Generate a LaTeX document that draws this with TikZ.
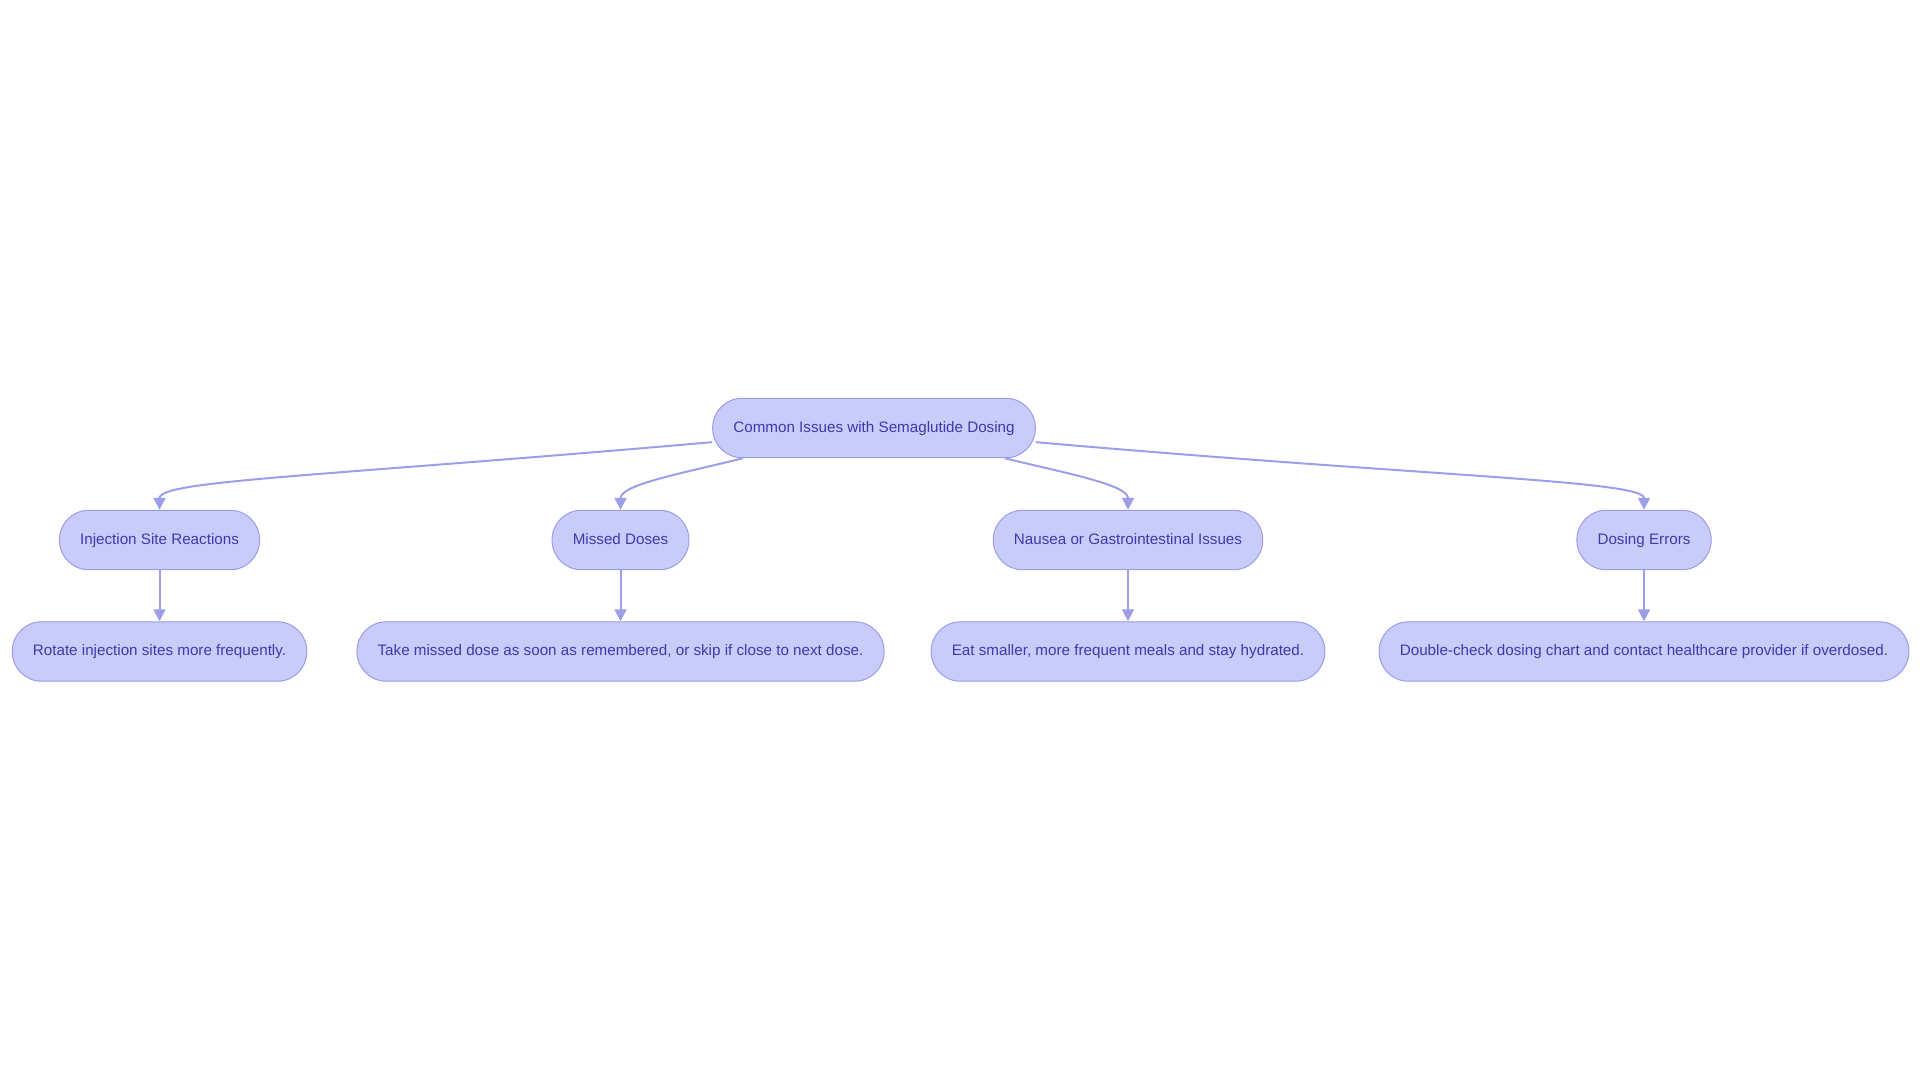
\documentclass[tikz,border=0pt]{standalone}
\usepackage{fontspec}
\setmainfont{Liberation Sans}
\usetikzlibrary{arrows.meta}
\usetikzlibrary{positioning}
\definecolor{issuefill}{HTML}{C9CBF9}
\definecolor{issueline}{HTML}{9A9DEA}
\definecolor{issuetext}{HTML}{3B3BAE}
\definecolor{linkline}{HTML}{9C9FE8}

\begin{document}
\begin{tikzpicture}[
  x=0.75pt, y=-0.75pt,
  issue/.style={draw=issueline, fill=issuefill, text=issuetext, rectangle,
    rounded corners=22pt, minimum height=44.6pt, inner xsep=15.5pt,
    text height=8.3pt, text depth=2.3pt,
    line width=0.75pt, font=\fontsize{11.4}{13.7}\selectfont},
  link/.style={draw=linkline, line width=1.5pt, -{Triangle[length=9pt,width=9pt]}},
]
\useasboundingbox (0,0) rectangle (1920,1083);

\node (top) [issue] at (874,428) {Common Issues with Semaglutide Dosing};

\node (cat1) [issue] at (159.5,540) {Injection Site Reactions};
\node (cat2) [issue] at (620.5,540) {Missed Doses};
\node (cat3) [issue] at (1128,540) {Nausea or Gastrointestinal Issues};
\node (cat4) [issue] at (1644,540) {Dosing Errors};

\node (tip1) [issue] at (159.5,651.5) {Rotate injection sites more frequently.};
\node (tip2) [issue] at (620.5,651.5) {Take missed dose as soon as remembered, or skip if close to next dose.};
\node (tip3) [issue] at (1128,651.5) {Eat smaller, more frequent meals and stay hydrated.};
\node (tip4) [issue] at (1644,651.5) {Double-check dosing chart and contact healthcare provider if overdosed.};

\draw[link] (top.185) to[out=185, in=90, out distance=300pt, in distance=22pt] (cat1.north);
\draw[link] (top.193) to[out=194, in=90, out distance=45pt, in distance=19pt] (cat2.north);
\draw[link] (top.347) to[out=346, in=90, out distance=45pt, in distance=19pt] (cat3.north);
\draw[link] (top.355) to[out=355, in=90, out distance=300pt, in distance=22pt] (cat4.north);

\foreach \i in {1,...,4} {
  \draw[link] (cat\i.south) -- (tip\i.north);
}
\end{tikzpicture}
\end{document}
